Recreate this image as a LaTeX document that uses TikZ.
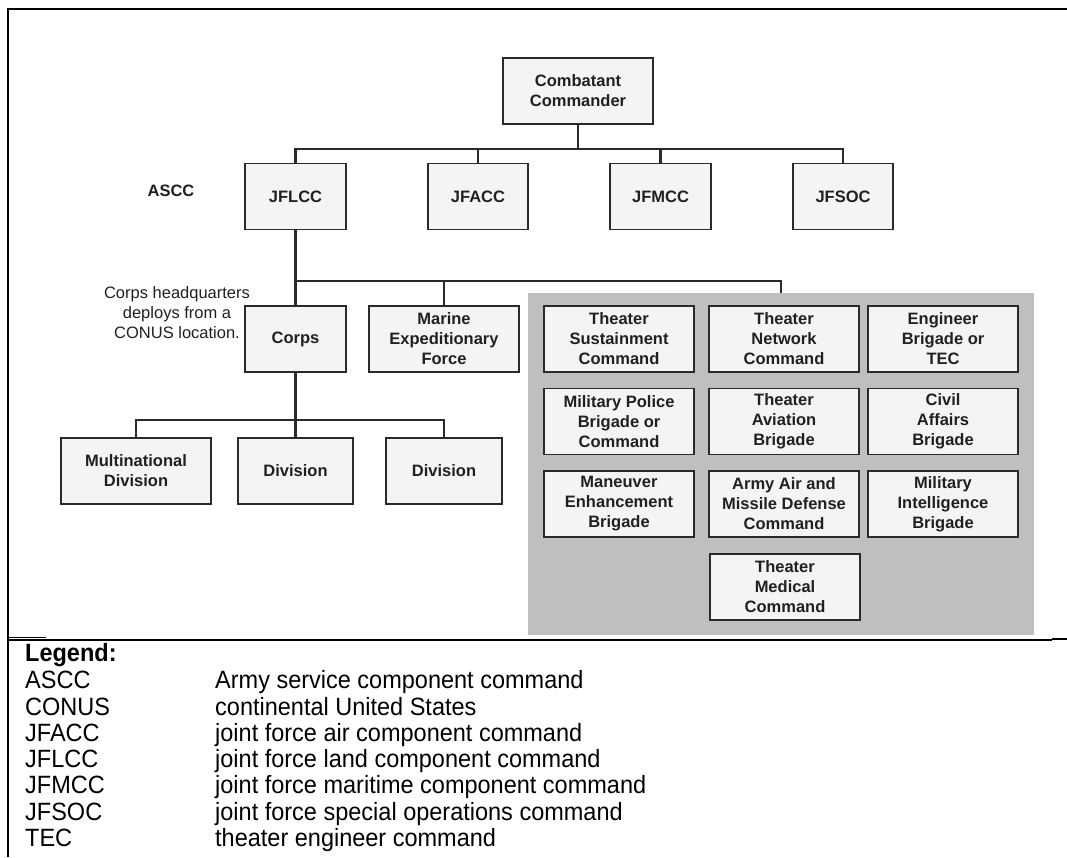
\documentclass[tikz,border=0pt]{standalone}
\usepackage{fontspec}
\setmainfont{Liberation Sans}
\newfontfamily\legendfamily[FakeStretch=0.94]{Liberation Sans}
\definecolor{linec}{HTML}{2A2A2A}
\definecolor{boxfill}{HTML}{F4F4F4}
\definecolor{grayarea}{HTML}{BEBFC1}
\definecolor{txt}{HTML}{231F20}
\newcommand{\orgboxfont}{\bfseries\fontsize{16.5}{20}\selectfont}
\newcommand{\notefont}{\fontsize{16.5}{20}\selectfont}
\newcommand{\legfont}{\legendfamily\fontsize{25}{26}\selectfont}
\tikzset{
  orgbox/.style={draw=linec, line width=1.8pt, fill=boxfill, text=txt, font=\orgboxfont,
    align=center, inner sep=0pt, minimum height=66pt},
  conn/.style={draw=linec, line width=2.2pt},
  legtxt/.style={anchor=base west, inner sep=0pt, text=black, font=\legfont},
}
\begin{document}
\begin{tikzpicture}[x=1pt,y=-1pt]
\useasboundingbox (0,0) rectangle (1067,857);
% frame
\draw[line width=2pt] (8,857) -- (8,9) -- (1067,9);
% gray area
\fill[grayarea] (528,293) rectangle (1034,635);
\coordinate (gdrop) at (781,293);
% top
\node[orgbox, minimum width=150pt] (cc) at (578,91) {Combatant\\Commander};
\node[orgbox, minimum width=101pt] (jflcc) at (295.5,196.5) {JFLCC};
\node[orgbox, minimum width=100pt] (jfacc) at (478,196.5) {JFACC};
\node[orgbox, minimum width=101pt] (jfmcc) at (660.5,196.5) {JFMCC};
\node[orgbox, minimum width=100pt] (jfsoc) at (843,196.5) {JFSOC};
\node[text=txt, font=\orgboxfont, inner sep=0pt] (ascc) at (171,191) {ASCC};
% second level
\node[orgbox, minimum width=100.5pt] (corps) at (295.5,339) {Corps};
\node[orgbox, minimum width=150pt] (mef) at (444,339) {Marine\\Expeditionary\\Force};
\node[text=txt, font=\notefont, align=center, inner sep=0pt] (note) at (177,313)
  {Corps headquarters\\deploys from a\\CONUS location.};
% divisions
\node[orgbox, minimum width=150pt] (mnd) at (136,471) {Multinational\\Division};
\node[orgbox, minimum width=115pt] (div1) at (295.5,471) {Division};
\node[orgbox, minimum width=116pt] (div2) at (444,471) {Division};
% theater grid
\node[orgbox, minimum width=150pt] (tsc) at (619,339) {Theater\\Sustainment\\Command};
\node[orgbox, minimum width=150pt] (tnc) at (784,339) {Theater\\Network\\Command};
\node[orgbox, minimum width=150pt] (eng) at (943,339) {Engineer\\Brigade or\\TEC};
\node[orgbox, minimum width=150pt] (mp) at (619,421.5) {Military Police\\Brigade or\\Command};
\node[orgbox, minimum width=150pt] (tab) at (784,421.5) {Theater\\Aviation\\Brigade};
\node[orgbox, minimum width=150pt] (ca) at (943,421.5) {Civil\\Affairs\\Brigade};
\node[orgbox, minimum width=150pt] (meb) at (619,504) {Maneuver\\Enhancement\\Brigade};
\node[orgbox, minimum width=150pt] (aamdc) at (784,504) {Army Air and\\Missile Defense\\Command};
\node[orgbox, minimum width=150pt] (mib) at (943,504) {Military\\Intelligence\\Brigade};
\node[orgbox, minimum width=150pt] (tmc) at (785,587) {Theater\\Medical\\Command};
% connectors level 1
\coordinate (bus1) at (578,149);
\draw[conn] (cc.south) -- (bus1);
\draw[conn] (jflcc.north) -- (jflcc.north |- bus1) -- (jfsoc.north |- bus1) -- (jfsoc.north);
\draw[conn] (jfacc.north) -- (jfacc.north |- bus1);
\draw[conn] (jfmcc.north) -- (jfmcc.north |- bus1);
% connectors level 2
\coordinate (bus2) at (295.5,281);
\draw[conn] (jflcc.south) -- (bus2) -- (gdrop |- bus2) -- (gdrop);
\draw[conn] (corps.north) -- (corps.north |- bus2);
\draw[conn] (mef.north) -- (mef.north |- bus2);
% connectors level 3
\coordinate (bus3) at (295.5,420);
\draw[conn] (corps.south) -- (bus3);
\draw[conn] (mnd.north) -- (mnd.north |- bus3) -- (div2.north |- bus3) -- (div2.north);
\draw[conn] (div1.north) -- (div1.north |- bus3);
% divider
\draw[line width=1.3pt] (8,640) -- (1052,640);
\draw[line width=1.5pt] (8,637.5) -- (46,637.5);
\draw[line width=2pt] (1052,639) -- (1067,639);
% legend
\node[legtxt, font=\legfont\bfseries] (leg) at (25,661.7) {Legend:};
\node[legtxt] (l1a) at (25,688.7) {ASCC};
\node[legtxt] (l1b) at (215,688.7) {Army service component command};
\node[legtxt] (l2a) at (25,715) {CONUS};
\node[legtxt] (l2b) at (215,715) {continental United States};
\node[legtxt] (l3a) at (25,741.3) {JFACC};
\node[legtxt] (l3b) at (215,741.3) {joint force air component command};
\node[legtxt] (l4a) at (25,767.6) {JFLCC};
\node[legtxt] (l4b) at (215,767.6) {joint force land component command};
\node[legtxt] (l5a) at (25,793.9) {JFMCC};
\node[legtxt] (l5b) at (215,793.9) {joint force maritime component command};
\node[legtxt] (l6a) at (25,820.2) {JFSOC};
\node[legtxt] (l6b) at (215,820.2) {joint force special operations command};
\node[legtxt] (l7a) at (25,846.5) {TEC};
\node[legtxt] (l7b) at (215,846.5) {theater engineer command};
\end{tikzpicture}
\end{document}
